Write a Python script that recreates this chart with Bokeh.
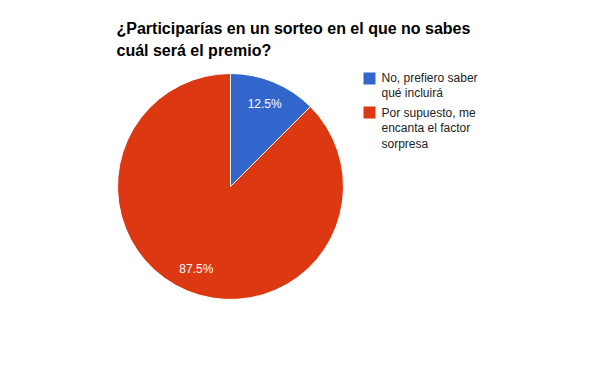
import math
from bokeh.plotting import figure
from bokeh.models import Range1d, ColumnDataSource
from bokeh.core.properties import value
from bokeh.embed import file_html
from bokeh.resources import INLINE

# ---- data ----
title_lines = ["¿Participarías en un sorteo en el que no sabes", "cuál será el premio?"]
categories = ["No, prefiero saber qué incluirá", "Por supuesto, me encanta el factor sorpresa"]
legend_lines = [["No, prefiero saber", "qué incluirá"], ["Por supuesto, me", "encanta el factor", "sorpresa"]]
values = [12.5, 87.5]
colors = ["#3366cc", "#dc3912"]

W, H = 600, 371
def Y(py):
    return H - py

p = figure(width=584, height=355, output_backend="svg", toolbar_location=None,
           x_range=Range1d(0, 584), y_range=Range1d(16, 371), min_border=0)
p.axis.visible = False
p.grid.visible = False
p.outline_line_color = None
p.background_fill_color = "white"

cx, cy, r = 230, Y(186), 113
total = sum(values)
starts, ends, lx, ly, labels = [], [], [], [], []
cum = 0.0
for v in values:
    a0 = math.pi / 2 - 2 * math.pi * cum / total
    cum += v
    a1 = math.pi / 2 - 2 * math.pi * cum / total
    starts.append(a0)
    ends.append(a1)
    mid = (a0 + a1) / 2
    lx.append(cx + 0.79 * r * math.cos(mid))
    ly.append(cy + 0.79 * r * math.sin(mid))
    labels.append(f"{v / total * 100:.1f}%")

src = ColumnDataSource(dict(start=starts, end=ends, color=colors))
p.wedge(x=cx, y=cy, radius=r, start_angle="start", end_angle="end", direction="clock",
        fill_color="color", line_color="white", line_width=1, source=src)

p.text(x=lx, y=ly, text=labels, text_color="white", text_font=value("Liberation Sans"),
       text_font_size="12px", text_align="center", text_baseline="middle")

# title
p.text(x=[116, 116], y=[Y(28), Y(50)], text=title_lines, text_color="#000000",
       text_font=value("Liberation Sans"), text_font_size="16px", text_font_style="bold",
       text_align="left", text_baseline="alphabetic")

# legend
sq_y = [Y(78), Y(112)]
p.rect(x=[369, 369], y=sq_y, width=12, height=12, fill_color=colors, line_color=None)
tx, ty, tt = [], [], []
top = [77, 112]
for i, lines in enumerate(legend_lines):
    for j, t in enumerate(lines):
        tx.append(381)
        ty.append(Y(top[i] + j * 15.5))
        tt.append(t)
p.text(x=tx, y=ty, text=tt, text_color="#222222", text_font=value("Liberation Sans"),
       text_font_size="12px", text_align="left", text_baseline="middle")

open("out.html", "w").write(file_html(p, INLINE))
